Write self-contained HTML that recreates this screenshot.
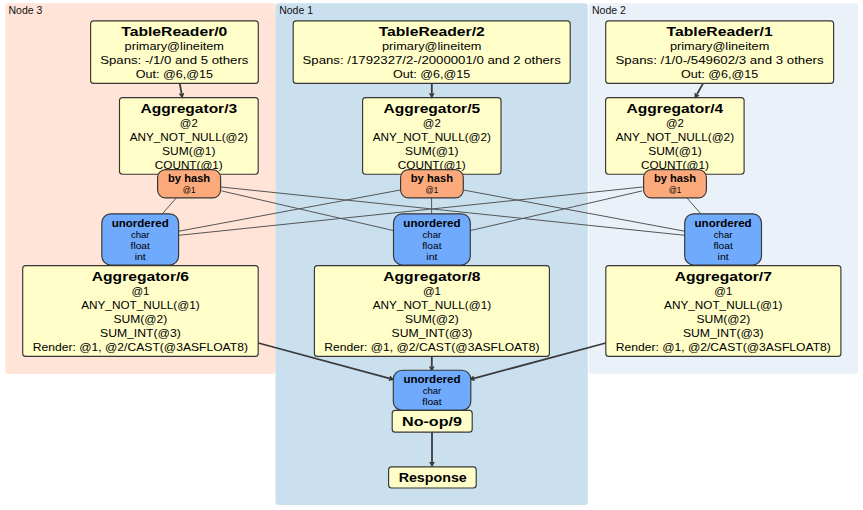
<!DOCTYPE html>
<html><head><meta charset="utf-8"><style>
html,body{margin:0;padding:0;background:#fff;width:863px;height:510px;overflow:hidden}
svg{display:block}
text{font-family:"Liberation Sans",sans-serif;fill:#000;text-anchor:middle}
.cl{font-size:10.5px;text-anchor:start;fill:#111}
.b{font-size:13px;font-weight:bold}
.bl{font-size:12.6px;font-weight:bold}
.r{font-size:11.5px}
.bs{font-size:10.5px;font-weight:bold}
.s{font-size:8.8px;fill:#000}
.s2{font-size:8.6px;fill:#000}
</style></head><body>
<svg width="863" height="510" viewBox="0 0 863 510">
<rect x="5.3" y="3.3" width="270.3" height="370.8" rx="3" fill="#ffe4d7"/>
<text x="8.5" y="13.7" class="cl">Node 3</text>
<rect x="275.5" y="3.3" width="312.29999999999995" height="501.7" rx="3" fill="#cbe0ee"/>
<text x="279.2" y="13.7" class="cl">Node 1</text>
<rect x="588.8" y="3.3" width="269.6" height="370.5" rx="3" fill="#eaf1f9"/>
<text x="592" y="13.7" class="cl">Node 2</text>
<line x1="176.3" y1="197.8" x2="162.4" y2="213.8" stroke="#555555" stroke-width="1"/>
<line x1="221" y1="187" x2="684.7" y2="235.3" stroke="#555555" stroke-width="1"/>
<line x1="221.5" y1="190.9" x2="393.5" y2="230.6" stroke="#555555" stroke-width="1"/>
<line x1="400.3" y1="190" x2="179" y2="231.2" stroke="#555555" stroke-width="1"/>
<line x1="431.6" y1="198" x2="431.6" y2="213.8" stroke="#555555" stroke-width="1"/>
<line x1="463.3" y1="190" x2="684.7" y2="231.2" stroke="#555555" stroke-width="1"/>
<line x1="642.7" y1="187" x2="179" y2="235.3" stroke="#555555" stroke-width="1"/>
<line x1="642.2" y1="190.9" x2="470.2" y2="230.6" stroke="#555555" stroke-width="1"/>
<line x1="687" y1="198" x2="700.8" y2="213.8" stroke="#555555" stroke-width="1"/>
<rect x="90.6" y="20.8" width="167.70000000000002" height="62.60000000000001" rx="3" fill="#fffec9" stroke="#363636" stroke-width="1.15"/>
<text x="174.3" y="35.9" class="b" textLength="106.1" lengthAdjust="spacingAndGlyphs">TableReader/0</text>
<text x="174.3" y="49.6" class="r" textLength="99.4" lengthAdjust="spacingAndGlyphs">primary@lineitem</text>
<text x="174.3" y="64" class="r" textLength="148.3" lengthAdjust="spacingAndGlyphs">Spans: -/1/0 and 5 others</text>
<text x="174.3" y="78" class="r" textLength="77.2" lengthAdjust="spacingAndGlyphs">Out: @6,@15</text>
<rect x="293.2" y="20.8" width="277.00000000000006" height="62.60000000000001" rx="3" fill="#fffec9" stroke="#363636" stroke-width="1.15"/>
<text x="431.7" y="35.9" class="b" textLength="106.1" lengthAdjust="spacingAndGlyphs">TableReader/2</text>
<text x="431.7" y="49.6" class="r" textLength="99.4" lengthAdjust="spacingAndGlyphs">primary@lineitem</text>
<text x="431.7" y="64" class="r" textLength="258.3" lengthAdjust="spacingAndGlyphs">Spans: /1792327/2-/2000001/0 and 2 others</text>
<text x="431.7" y="78" class="r" textLength="77.2" lengthAdjust="spacingAndGlyphs">Out: @6,@15</text>
<rect x="605.7" y="20.8" width="227.89999999999998" height="62.60000000000001" rx="3" fill="#fffec9" stroke="#363636" stroke-width="1.15"/>
<text x="719.6" y="35.9" class="b" textLength="106.1" lengthAdjust="spacingAndGlyphs">TableReader/1</text>
<text x="719.6" y="49.6" class="r" textLength="99.4" lengthAdjust="spacingAndGlyphs">primary@lineitem</text>
<text x="719.6" y="64" class="r" textLength="208.2" lengthAdjust="spacingAndGlyphs">Spans: /1/0-/549602/3 and 3 others</text>
<text x="719.6" y="78" class="r" textLength="77.2" lengthAdjust="spacingAndGlyphs">Out: @6,@15</text>
<rect x="119.5" y="97.6" width="138.7" height="76.6" rx="3" fill="#fffec9" stroke="#363636" stroke-width="1.15"/>
<text x="188.8" y="112.9" class="b" textLength="96.7" lengthAdjust="spacingAndGlyphs">Aggregator/3</text>
<text x="188.8" y="126.9" class="r" textLength="17.9" lengthAdjust="spacingAndGlyphs">@2</text>
<text x="188.8" y="140.8" class="r" textLength="118.3" lengthAdjust="spacingAndGlyphs">ANY_NOT_NULL(@2)</text>
<text x="188.8" y="154.7" class="r" textLength="53.5" lengthAdjust="spacingAndGlyphs">SUM(@1)</text>
<text x="188.8" y="168.6" class="r" textLength="67.9" lengthAdjust="spacingAndGlyphs">COUNT(@1)</text>
<rect x="362.6" y="97.6" width="138.39999999999998" height="76.6" rx="3" fill="#fffec9" stroke="#363636" stroke-width="1.15"/>
<text x="431.8" y="112.9" class="b" textLength="96.7" lengthAdjust="spacingAndGlyphs">Aggregator/5</text>
<text x="431.8" y="126.9" class="r" textLength="17.9" lengthAdjust="spacingAndGlyphs">@2</text>
<text x="431.8" y="140.8" class="r" textLength="118.3" lengthAdjust="spacingAndGlyphs">ANY_NOT_NULL(@2)</text>
<text x="431.8" y="154.7" class="r" textLength="53.5" lengthAdjust="spacingAndGlyphs">SUM(@1)</text>
<text x="431.8" y="168.6" class="r" textLength="67.9" lengthAdjust="spacingAndGlyphs">COUNT(@1)</text>
<rect x="605.6" y="97.6" width="138.5" height="76.6" rx="3" fill="#fffec9" stroke="#363636" stroke-width="1.15"/>
<text x="674.9" y="112.9" class="b" textLength="96.7" lengthAdjust="spacingAndGlyphs">Aggregator/4</text>
<text x="674.9" y="126.9" class="r" textLength="17.9" lengthAdjust="spacingAndGlyphs">@2</text>
<text x="674.9" y="140.8" class="r" textLength="118.3" lengthAdjust="spacingAndGlyphs">ANY_NOT_NULL(@2)</text>
<text x="674.9" y="154.7" class="r" textLength="53.5" lengthAdjust="spacingAndGlyphs">SUM(@1)</text>
<text x="674.9" y="168.6" class="r" textLength="67.9" lengthAdjust="spacingAndGlyphs">COUNT(@1)</text>
<rect x="157.6" y="169.6" width="63.0" height="28.30000000000001" rx="8" fill="#fcaa7b" stroke="#363636" stroke-width="1.15"/>
<text x="189.1" y="181.8" class="bs" textLength="42.2" lengthAdjust="spacingAndGlyphs">by hash</text>
<text x="189.1" y="192.7" class="s2" textLength="12.6" lengthAdjust="spacingAndGlyphs">@1</text>
<rect x="400.6" y="169.6" width="62.69999999999999" height="28.30000000000001" rx="8" fill="#fcaa7b" stroke="#363636" stroke-width="1.15"/>
<text x="431.9" y="181.8" class="bs" textLength="42.2" lengthAdjust="spacingAndGlyphs">by hash</text>
<text x="431.9" y="192.7" class="s2" textLength="12.6" lengthAdjust="spacingAndGlyphs">@1</text>
<rect x="643.6" y="169.6" width="62.799999999999955" height="28.30000000000001" rx="8" fill="#fcaa7b" stroke="#363636" stroke-width="1.15"/>
<text x="675" y="181.8" class="bs" textLength="42.2" lengthAdjust="spacingAndGlyphs">by hash</text>
<text x="675" y="192.7" class="s2" textLength="12.6" lengthAdjust="spacingAndGlyphs">@1</text>
<rect x="101.8" y="213.8" width="76.8" height="51.19999999999999" rx="9" fill="#6faafc" stroke="#363636" stroke-width="1.15"/>
<text x="140.2" y="226.8" class="bs" textLength="57.1" lengthAdjust="spacingAndGlyphs">unordered</text>
<text x="140.2" y="237.60000000000002" class="s" textLength="18.6" lengthAdjust="spacingAndGlyphs">char</text>
<text x="140.2" y="248.60000000000002" class="s" textLength="19.3" lengthAdjust="spacingAndGlyphs">float</text>
<text x="140.2" y="259.6" class="s" textLength="11.1" lengthAdjust="spacingAndGlyphs">int</text>
<rect x="393.5" y="213.8" width="76.80000000000001" height="51.19999999999999" rx="9" fill="#6faafc" stroke="#363636" stroke-width="1.15"/>
<text x="431.9" y="226.8" class="bs" textLength="57.1" lengthAdjust="spacingAndGlyphs">unordered</text>
<text x="431.9" y="237.60000000000002" class="s" textLength="18.6" lengthAdjust="spacingAndGlyphs">char</text>
<text x="431.9" y="248.60000000000002" class="s" textLength="19.3" lengthAdjust="spacingAndGlyphs">float</text>
<text x="431.9" y="259.6" class="s" textLength="11.1" lengthAdjust="spacingAndGlyphs">int</text>
<rect x="684.7" y="213.8" width="76.79999999999995" height="51.19999999999999" rx="9" fill="#6faafc" stroke="#363636" stroke-width="1.15"/>
<text x="723.1" y="226.8" class="bs" textLength="57.1" lengthAdjust="spacingAndGlyphs">unordered</text>
<text x="723.1" y="237.60000000000002" class="s" textLength="18.6" lengthAdjust="spacingAndGlyphs">char</text>
<text x="723.1" y="248.60000000000002" class="s" textLength="19.3" lengthAdjust="spacingAndGlyphs">float</text>
<text x="723.1" y="259.6" class="s" textLength="11.1" lengthAdjust="spacingAndGlyphs">int</text>
<rect x="22.7" y="265.6" width="235.5" height="90.79999999999995" rx="3" fill="#fffec9" stroke="#363636" stroke-width="1.15"/>
<text x="140.4" y="281.3" class="b" textLength="97.2" lengthAdjust="spacingAndGlyphs">Aggregator/6</text>
<text x="140.4" y="295" class="r" textLength="18" lengthAdjust="spacingAndGlyphs">@1</text>
<text x="140.4" y="308.9" class="r" textLength="118.4" lengthAdjust="spacingAndGlyphs">ANY_NOT_NULL(@1)</text>
<text x="140.4" y="322.8" class="r" textLength="53.8" lengthAdjust="spacingAndGlyphs">SUM(@2)</text>
<text x="140.4" y="336.7" class="r" textLength="80.8" lengthAdjust="spacingAndGlyphs">SUM_INT(@3)</text>
<text x="140.4" y="350.6" class="r" textLength="215.2" lengthAdjust="spacingAndGlyphs">Render: @1, @2/CAST(@3ASFLOAT8)</text>
<rect x="314.4" y="265.6" width="235.0" height="90.79999999999995" rx="3" fill="#fffec9" stroke="#363636" stroke-width="1.15"/>
<text x="431.9" y="281.3" class="b" textLength="97.2" lengthAdjust="spacingAndGlyphs">Aggregator/8</text>
<text x="431.9" y="295" class="r" textLength="18" lengthAdjust="spacingAndGlyphs">@1</text>
<text x="431.9" y="308.9" class="r" textLength="118.4" lengthAdjust="spacingAndGlyphs">ANY_NOT_NULL(@1)</text>
<text x="431.9" y="322.8" class="r" textLength="53.8" lengthAdjust="spacingAndGlyphs">SUM(@2)</text>
<text x="431.9" y="336.7" class="r" textLength="80.8" lengthAdjust="spacingAndGlyphs">SUM_INT(@3)</text>
<text x="431.9" y="350.6" class="r" textLength="215.2" lengthAdjust="spacingAndGlyphs">Render: @1, @2/CAST(@3ASFLOAT8)</text>
<rect x="605.8" y="265.6" width="235.10000000000002" height="90.79999999999995" rx="3" fill="#fffec9" stroke="#363636" stroke-width="1.15"/>
<text x="723.3" y="281.3" class="b" textLength="97.2" lengthAdjust="spacingAndGlyphs">Aggregator/7</text>
<text x="723.3" y="295" class="r" textLength="18" lengthAdjust="spacingAndGlyphs">@1</text>
<text x="723.3" y="308.9" class="r" textLength="118.4" lengthAdjust="spacingAndGlyphs">ANY_NOT_NULL(@1)</text>
<text x="723.3" y="322.8" class="r" textLength="53.8" lengthAdjust="spacingAndGlyphs">SUM(@2)</text>
<text x="723.3" y="336.7" class="r" textLength="80.8" lengthAdjust="spacingAndGlyphs">SUM_INT(@3)</text>
<text x="723.3" y="350.6" class="r" textLength="215.2" lengthAdjust="spacingAndGlyphs">Render: @1, @2/CAST(@3ASFLOAT8)</text>
<line x1="179.8" y1="83.4" x2="181.48438619555077" y2="93.37674900441607" stroke="#3a3a3a" stroke-width="1.8"/>
<polygon points="182.4,98.8 178.72345841598076,93.84287966849932 184.24531397512078,92.91061834033282" fill="#3a3a3a"/>
<line x1="431.8" y1="83.4" x2="431.8" y2="93.3" stroke="#3a3a3a" stroke-width="1.8"/>
<polygon points="431.8,98.8 429.0,93.3 434.6,93.3" fill="#3a3a3a"/>
<line x1="703.1" y1="83.4" x2="697.1052902198111" y2="94.01132535803546" stroke="#3a3a3a" stroke-width="1.8"/>
<polygon points="694.4,98.8 694.6674194929927,92.63408670067706 699.5431609466294,95.38856401539387" fill="#3a3a3a"/>
<line x1="258.3" y1="343" x2="389.289150950784" y2="378.27000616209665" stroke="#3a3a3a" stroke-width="1.8"/>
<polygon points="394.6,379.7 388.5611540878514,380.97371113260664 390.01714781371663,375.56630119158666" fill="#3a3a3a"/>
<line x1="431.8" y1="356.2" x2="431.8" y2="366.5" stroke="#3a3a3a" stroke-width="1.8"/>
<polygon points="431.8,372 429.0,366.5 434.6,366.5" fill="#3a3a3a"/>
<line x1="605.8" y1="343" x2="474.1126796681732" y2="378.27682230786894" stroke="#3a3a3a" stroke-width="1.8"/>
<polygon points="468.8,379.7 473.3881528430883,375.5721853858899 474.8372064932581,380.981459229848" fill="#3a3a3a"/>
<rect x="393.3" y="370.2" width="77.5" height="40.19999999999999" rx="9" fill="#6faafc" stroke="#363636" stroke-width="1.15"/>
<text x="432" y="383.2" class="bs" textLength="57.1" lengthAdjust="spacingAndGlyphs">unordered</text>
<text x="432" y="394.0" class="s" textLength="18.6" lengthAdjust="spacingAndGlyphs">char</text>
<text x="432" y="405.0" class="s" textLength="19.3" lengthAdjust="spacingAndGlyphs">float</text>
<rect x="392.2" y="410.4" width="80.0" height="21.80000000000001" rx="3" fill="#fffec9" stroke="#363636" stroke-width="1.15"/>
<text x="432" y="425.7" class="bl" textLength="59.9" lengthAdjust="spacingAndGlyphs">No-op/9</text>
<line x1="432" y1="432.2" x2="432.0" y2="462.0" stroke="#3a3a3a" stroke-width="1.8"/>
<polygon points="432,467.5 429.2,462.0 434.8,462.0" fill="#3a3a3a"/>
<rect x="388.6" y="466.8" width="87.59999999999997" height="21.19999999999999" rx="3" fill="#fffec9" stroke="#363636" stroke-width="1.15"/>
<text x="432.7" y="481.9" class="bl" textLength="68.1" lengthAdjust="spacingAndGlyphs">Response</text>
</svg>
</body></html>
